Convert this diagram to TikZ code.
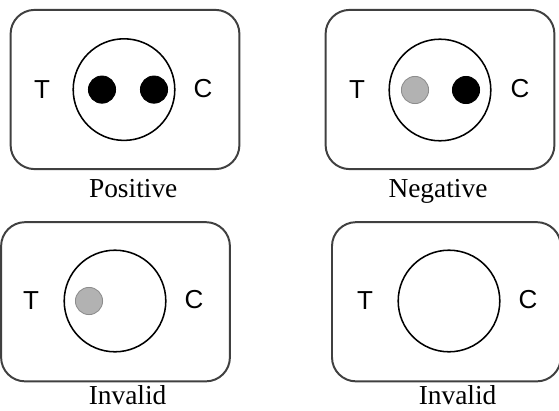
\documentclass[tikz,border=0pt]{standalone}
\usepackage{fontspec}
\setmainfont{Liberation Serif}
\setsansfont{Liberation Sans}
\usepackage{tikz}

\begin{document}
\begin{tikzpicture}[
        panel/.style={rectangle, rounded corners=0.6cm, draw=black!75, line width=1.4pt, minimum width=5.72cm, minimum height=3.98cm, inner sep=0pt},
        ring/.style={circle, draw, line width=1.1pt, minimum size=2.54cm, inner sep=0pt},
        spot/.style={circle, draw, line width=0.6pt, minimum size=0.68cm, inner sep=0pt},
        sidetext/.style={font=\sffamily\fontsize{18.5}{20}\selectfont},
        caption/.style={anchor=base, font=\fontsize{19.5}{22}\selectfont}
    ]
        \useasboundingbox (0, 0) rectangle (13.975, -10.25);

        % Positive
        \node[panel] (p1) at (3.125, -2.2375) {};
        \node[ring] (r1) at (3.1, -2.24) {};
        \node[spot, fill=black] (t1) at (2.55, -2.24) {};
        \node[spot, fill=black] (c1) at (3.85, -2.24) {};
        \node[sidetext] (tl1) at (1.05, -2.25) {T};
        \node[sidetext] (cl1) at (5.075, -2.225) {C};
        \node[caption] (cap1) at (3.33, -4.925) {Positive};

        % Negative
        \node[panel] (p2) at (11.0, -2.2375) {};
        \node[ring] (r2) at (11.0, -2.25) {};
        \node[spot, draw=black!45, fill=black!30] (t2) at (10.375, -2.25) {};
        \node[spot, fill=black] (c2) at (11.65, -2.25) {};
        \node[sidetext] (tl2) at (8.925, -2.25) {T};
        \node[sidetext] (cl2) at (13.0, -2.225) {C};
        \node[caption] (cap2) at (10.95, -4.925) {Negative};

        % Invalid
        \node[panel] (p3) at (2.8875, -7.544) {};
        \node[ring] (r3) at (2.875, -7.525) {};
        \node[spot, draw=black!45, fill=black!30] (t3) at (2.225, -7.525) {};
        \node[sidetext] (tl3) at (0.775, -7.525) {T};
        \node[sidetext] (cl3) at (4.85, -7.5) {C};
        \node[caption] (cap3) at (3.19, -10.12) {Invalid};

        % Invalid, empty
        \node[panel] (p4) at (11.16, -7.544) {};
        \node[ring] (r4) at (11.225, -7.525) {};
        \node[sidetext] (tl4) at (9.125, -7.525) {T};
        \node[sidetext] (cl4) at (13.2, -7.5) {C};
        \node[caption] (cap4) at (11.44, -10.12) {Invalid};
    \end{tikzpicture}
\end{document}
